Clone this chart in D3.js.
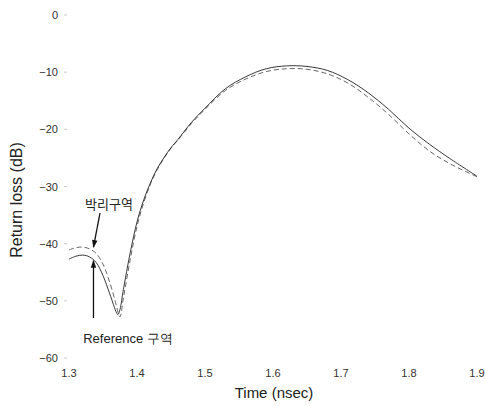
<!DOCTYPE html>
<html>
<head>
<meta charset="utf-8">
<script src="https://cdn.jsdelivr.net/npm/d3@7"></script>
<style>
  body { margin: 0; background: #fff; }
  svg { display: block; font-family: "Liberation Sans", Arial, sans-serif; }
</style>
</head>
<body>
<div id="chart"></div>
<script>
// Return loss vs time
const timeNs = [1.30, 1.31, 1.32, 1.33, 1.34, 1.35, 1.36, 1.37, 1.372, 1.375, 1.38, 1.39, 1.40, 1.41,
  1.42, 1.43, 1.44, 1.45, 1.46, 1.48, 1.50, 1.53, 1.56, 1.59, 1.62, 1.65, 1.68, 1.71, 1.74, 1.77, 1.80, 1.83, 1.86, 1.90];
const referenceDb = [-42.7, -42.2, -42.0, -42.3, -43.3, -45.6, -48.8, -52.1, -52.4, -51.5, -48.0, -41.6, -36.2, -32.3,
  -29.3, -26.8, -24.9, -23.2, -21.8, -18.8, -16.3, -12.9, -10.8, -9.4, -8.9, -9.0, -9.7, -11.3, -13.6, -16.5, -19.8, -22.6, -25.1, -28.2];
const delamDb = [-41.1, -40.7, -40.6, -40.9, -41.7, -43.6, -46.8, -51.0, -52.0, -52.8, -49.5, -42.8, -37.0, -32.8,
  -29.5, -27.0, -25.0, -23.3, -21.9, -19.0, -16.5, -13.2, -11.2, -9.9, -9.4, -9.5, -10.3, -11.9, -14.4, -17.4, -20.8, -23.8, -26.0, -28.3];
const xTicks = [1.3, 1.4, 1.5, 1.6, 1.7, 1.8, 1.9];
const yTicks = [0, -10, -20, -30, -40, -50, -60];

const width = 486, height = 406;
const textColor = "#222";

const svg = d3.select("#chart")
  .append("svg")
  .attr("width", width)
  .attr("height", height);

const x = d3.scaleLinear().domain([1.3, 1.9]).range([69, 477]);
const y = d3.scaleLinear().domain([0, -60]).range([15, 358]);

// y tick labels + faint tick marks
svg.selectAll(".ylab")
  .data(yTicks)
  .enter()
  .append("text")
  .attr("x", 58)
  .attr("y", d => y(d) + 4)
  .attr("text-anchor", "end")
  .attr("font-size", "11px")
  .attr("fill", "#333")
  .text(d => d === 0 ? "0" : "\u2212" + Math.abs(d));

svg.selectAll(".ytick")
  .data(yTicks)
  .enter()
  .append("line")
  .attr("x1", 64).attr("x2", 67)
  .attr("y1", d => y(d)).attr("y2", d => y(d))
  .attr("stroke", "#ccc")
  .attr("stroke-width", 1);

// x tick labels
svg.selectAll(".xlab")
  .data(xTicks)
  .enter()
  .append("text")
  .attr("x", d => x(d))
  .attr("y", 377)
  .attr("text-anchor", "middle")
  .attr("font-size", "11px")
  .attr("fill", "#333")
  .text(d => d.toFixed(1));

// axis titles
svg.append("text")
  .attr("x", 274)
  .attr("y", 398)
  .attr("text-anchor", "middle")
  .attr("font-size", "15px")
  .attr("fill", textColor)
  .text("Time (nsec)");

svg.append("text")
  .attr("transform", "translate(22,200) rotate(-90)")
  .attr("text-anchor", "middle")
  .attr("font-size", "16px")
  .attr("fill", textColor)
  .text("Return loss (dB)");

// curves
const line = d3.line()
  .x((d, i) => x(timeNs[i]))
  .y(d => y(d))
  .curve(d3.curveCatmullRom.alpha(0.5));

svg.append("path")
  .attr("d", line(delamDb))
  .attr("fill", "none")
  .attr("stroke", "#666")
  .attr("stroke-width", 1)
  .attr("stroke-dasharray", "5,3");

svg.append("path")
  .attr("d", line(referenceDb))
  .attr("fill", "none")
  .attr("stroke", "#222")
  .attr("stroke-width", 0.9);

// annotations
const defs = svg.append("defs");
defs.append("marker")
  .attr("id", "arrow")
  .attr("viewBox", "0 0 10 10")
  .attr("refX", 9).attr("refY", 5)
  .attr("markerWidth", 7).attr("markerHeight", 6)
  .attr("orient", "auto")
  .append("path")
  .attr("d", "M0,1.5 L10,5 L0,8.5 Z")
  .attr("fill", "#111");

svg.append("line")
  .attr("x1", 100).attr("y1", 213)
  .attr("x2", x(1.336)).attr("y2", y(-40.8) - 1)
  .attr("stroke", "#111").attr("stroke-width", 1.3)
  .attr("marker-end", "url(#arrow)");

svg.append("line")
  .attr("x1", x(1.336)).attr("y1", 318)
  .attr("x2", x(1.336)).attr("y2", y(-42.8) + 1)
  .attr("stroke", "#111").attr("stroke-width", 1.3)
  .attr("marker-end", "url(#arrow)");

svg.append("text")
  .attr("x", 109)
  .attr("y", 209)
  .attr("text-anchor", "middle")
  .attr("font-size", "13px")
  .attr("font-family", "'Noto Sans CJK KR', sans-serif")
  .attr("fill", textColor)
  .text("박리구역");

svg.append("text")
  .attr("x", 128)
  .attr("y", 343)
  .attr("text-anchor", "middle")
  .attr("font-size", "13px")
  .attr("fill", textColor)
  .text("Reference 구역");
</script>
</body>
</html>
